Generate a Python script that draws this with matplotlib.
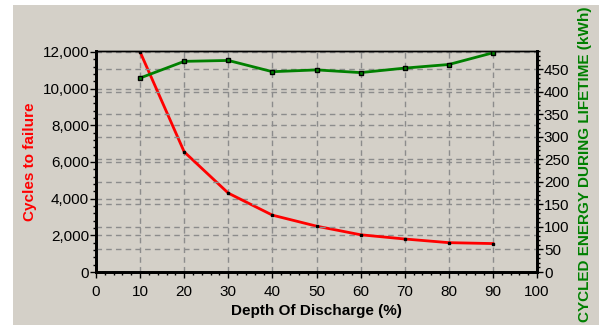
import matplotlib.pyplot as plt
from matplotlib.patches import Rectangle
from matplotlib.ticker import MultipleLocator, FuncFormatter

plt.rcParams['font.family'] = ['Liberation Sans', 'DejaVu Sans']

# Depth of discharge vs. cycle life and lifetime cycled energy
dod = [10, 20, 30, 40, 50, 60, 70, 80, 90]
cycles_to_failure = [12000, 6550, 4300, 3100, 2500, 2030, 1800, 1600, 1550]
cycled_energy_kwh = [431, 468, 470, 445, 449, 443, 453, 461, 487]

BG = '#d4d0c8'
RED = '#ff0000'
GREEN = '#008000'
GRID = '#8c8c8c'

fig = plt.figure(figsize=(5.99, 3.25), dpi=100, facecolor='white')
fig.patches.append(Rectangle((13 / 599, 0), 1, (325 - 5) / 325,
                             transform=fig.transFigure, facecolor=BG,
                             edgecolor='none', zorder=-10))

ax = fig.add_axes([96 / 599, (325 - 272) / 325, 441 / 599, 221 / 325])
ax.set_facecolor(BG)
ax2 = ax.twinx()

# Left axis: cycles to failure
ax.plot(dod, cycles_to_failure, color=RED, linewidth=2, marker='s',
        markersize=1.5, markerfacecolor='black', markeredgecolor='black', zorder=3)
ax.set_xlim(0, 100)
ax.set_ylim(0, 12050)
ax.xaxis.set_major_locator(MultipleLocator(10))
ax.xaxis.set_minor_locator(MultipleLocator(2))
ax.yaxis.set_major_locator(MultipleLocator(2000))
ax.yaxis.set_minor_locator(MultipleLocator(400))
ax.yaxis.set_major_formatter(FuncFormatter(lambda v, p: f'{int(v):,}'))
ax.grid(True, which='major', color=GRID, linestyle=(0, (4, 3)), linewidth=1)

# Right axis: cycled energy during lifetime
ax2.plot(dod, cycled_energy_kwh, color=GREEN, linewidth=2, marker='s',
         markersize=3, markerfacecolor=GREEN, markeredgecolor='black',
         markeredgewidth=1, zorder=3)
ax2.set_ylim(0, 491)
ax2.yaxis.set_major_locator(MultipleLocator(50))
ax2.yaxis.set_minor_locator(MultipleLocator(10))
ax2.grid(True, which='major', axis='y', color=GRID, linestyle=(0, (4, 3)), linewidth=1)

for a in (ax, ax2):
    a.tick_params(which='major', direction='out', length=4, width=1,
                  labelsize=11, colors='black', pad=1)
    a.tick_params(which='minor', direction='out', length=2, width=1)
    for side in ('left', 'bottom', 'right'):
        a.spines[side].set_linewidth(2)
    a.spines['top'].set_linewidth(1)
ax.tick_params(axis='x', pad=5)

ax.set_xlabel('Depth Of Discharge (%)', fontsize=11, fontweight='bold', labelpad=4)
ax.set_ylabel('Cycles to failure', fontsize=11, fontweight='bold', color=RED, labelpad=4)

# Right-hand title, running up nearly the full height of the panel
fig.text(585 / 599, (325 - 322) / 325, 'CYCLED ENERGY DURING LIFETIME (kWh)',
         rotation=90, ha='center', va='bottom', fontsize=11,
         fontweight='bold', color=GREEN)

fig.savefig('out.png', dpi=100, facecolor='white')
